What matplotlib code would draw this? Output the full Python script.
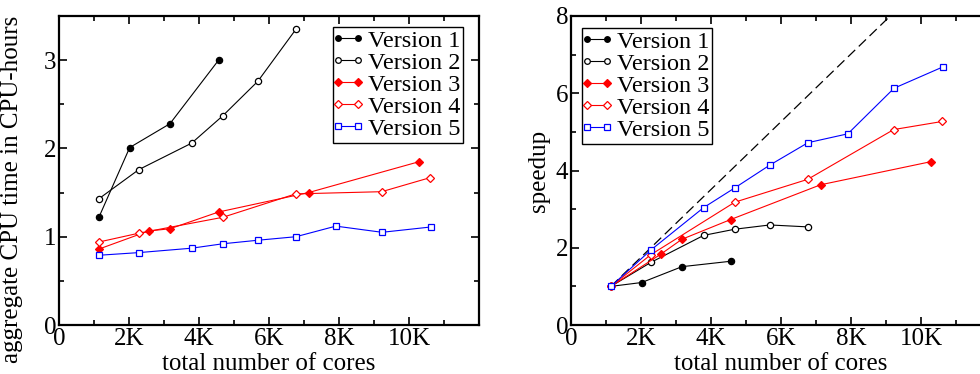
import numpy as np
import matplotlib
matplotlib.use("Agg")
import matplotlib.pyplot as plt
from matplotlib.ticker import MultipleLocator, FuncFormatter
from matplotlib.lines import Line2D
from matplotlib.legend_handler import HandlerLine2D

plt.rcParams['font.family'] = ['Liberation Serif', 'DejaVu Serif']

# data (x = total number of cores)
v1_x = [1140, 2020, 3170, 4560]
v2_x = [1140, 2280, 3790, 4680, 5680, 6770]
v3_x = [1140, 2560, 3170, 4560, 7130, 10290]
v4_x = [1140, 2280, 4680, 6760, 9220, 10610]
v5_x = [1140, 2280, 3790, 4680, 5680, 6770, 7910, 9230, 10620]

# aggregate CPU time in CPU-hours
v1_cpu = [1.22, 2.01, 2.28, 3.00]
v2_cpu = [1.43, 1.76, 2.06, 2.37, 2.76, 3.35]
v3_cpu = [0.86, 1.065, 1.09, 1.28, 1.50, 1.85]
v4_cpu = [0.94, 1.04, 1.22, 1.485, 1.51, 1.67]
v5_cpu = [0.79, 0.82, 0.87, 0.92, 0.96, 1.00, 1.12, 1.05, 1.11]

# speedup
v1_sp = [1.0, 1.10, 1.51, 1.65]
v2_sp = [1.0, 1.62, 2.32, 2.48, 2.59, 2.54]
v3_sp = [1.0, 1.83, 2.22, 2.73, 3.63, 4.23]
v4_sp = [1.0, 1.82, 3.18, 3.77, 5.06, 5.27]
v5_sp = [1.0, 1.94, 3.04, 3.55, 4.14, 4.72, 4.95, 6.13, 6.68]

# ideal speedup reference line
ideal_x = [1140, 9120]
ideal_y = [1, 8]

labels = ["Version 1", "Version 2", "Version 3", "Version 4", "Version 5"]
styles = [
    dict(color='black', marker='o', mfc='black', ms=4.5),
    dict(color='black', marker='o', mfc='white', ms=4.5),
    dict(color='red', marker='D', mfc='red', ms=4.0),
    dict(color='red', marker='D', mfc='white', ms=4.0),
    dict(color='blue', marker='s', mfc='white', ms=4.2),
]

FS = 18

fig = plt.figure(figsize=(9.8, 3.74), dpi=100)
ax1 = fig.add_axes([59/980, 49/374, 420/980, 309/374])
ax2 = fig.add_axes([571/980, 49/374, 420/980, 309/374])

def kfmt(v, pos):
    if v >= 12000:
        return ""
    if v == 0:
        return "0"
    return "%dK" % int(round(v/1000))

cpu = [v1_cpu, v2_cpu, v3_cpu, v4_cpu, v5_cpu]
sps = [v1_sp, v2_sp, v3_sp, v4_sp, v5_sp]
xs = [v1_x, v2_x, v3_x, v4_x, v5_x]

for x, y, lab, st in zip(xs, cpu, labels, styles):
    ax1.plot(x, y, lw=0.8, mew=0.9, label=lab, **st)
ax2.plot(ideal_x, ideal_y, color='black', lw=0.9, ls=(0, (8, 4)))
for x, y, lab, st in zip(xs, sps, labels, styles):
    ax2.plot(x, y, lw=0.8, mew=0.9, label=lab, **st)

ax1.set_ylim(0, 3.5)
ax1.yaxis.set_major_locator(MultipleLocator(1))
ax1.yaxis.set_minor_locator(MultipleLocator(0.5))
ax1.set_ylabel("aggregate CPU time in CPU-hours", fontsize=FS)
ax1.yaxis.set_label_coords(-0.085, 0.44)

ax2.set_ylim(0, 8)
ax2.yaxis.set_major_locator(MultipleLocator(2))
ax2.yaxis.set_minor_locator(MultipleLocator(1))
ax2.set_ylabel("speedup", fontsize=FS, labelpad=4)

for ax in (ax1, ax2):
    ax.set_xlim(0, 12000)
    ax.xaxis.set_major_locator(MultipleLocator(2000))
    ax.xaxis.set_minor_locator(MultipleLocator(1000))
    ax.xaxis.set_major_formatter(FuncFormatter(kfmt))
    ax.tick_params(which='both', direction='in', top=True, right=True,
                   labelsize=FS, width=1.2, pad=2)
    ax.tick_params(which='major', length=6)
    ax.tick_params(which='minor', length=3.5)
    for sp in ax.spines.values():
        sp.set_linewidth(1.6)
    ax.set_xlabel("total number of cores", fontsize=FS, labelpad=2)

leg_kw = dict(fontsize=17.5, handlelength=1.0, handletextpad=0.3,
              labelspacing=0.0, borderpad=0.12, borderaxespad=0.0, fancybox=False,
              framealpha=1, edgecolor='black', markerscale=0.9,
              handler_map={Line2D: HandlerLine2D(marker_pad=0.1, numpoints=2)})
l1 = ax1.legend(loc='upper right', bbox_to_anchor=(1 - 16/420, 1 - 11/309), **leg_kw)
l2 = ax2.legend(loc='upper left', bbox_to_anchor=(11/420, 1 - 12/309), **leg_kw)
for l in (l1, l2):
    l.get_frame().set_linewidth(1.0)

fig.savefig("out.png", dpi=100)
